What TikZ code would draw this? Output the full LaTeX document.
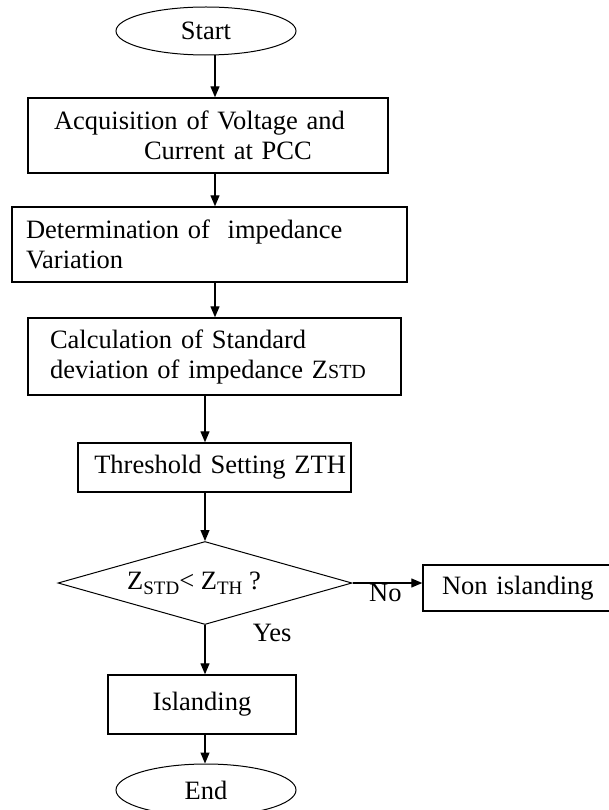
\documentclass[tikz,border=0pt]{standalone}
\usepackage{fontspec}
\setmainfont{Liberation Serif}
\usetikzlibrary{positioning, shapes.geometric, arrows.meta}

\begin{document}
\begin{tikzpicture}[x=1pt,y=-1pt,
    font=\fontsize{26.5}{30}\selectfont,
    proc/.style={draw, line width=1.4pt, rectangle, inner ysep=0pt},
    term/.style={draw, line width=1pt, ellipse, minimum width=180pt, inner sep=0pt},
    decision/.style={draw, line width=1pt, diamond, shape aspect=3.5, minimum width=294pt, minimum height=83pt, inner sep=0pt},
    flow/.style={-{Triangle[length=11pt,width=9pt]}, line width=1.2pt}]
        \path[use as bounding box, clip] (0,0) rectangle (609,810);

        \node[term, minimum height=48pt] (start) at (206,31) {Start};
        \node[proc, align=left, text width=308pt, inner xsep=26pt, minimum height=75pt] (acq) at (208,135.5)
            {Acquisition of Voltage and\\\hspace*{90pt}Current at PCC};
        \node[proc, align=left, text width=367pt, inner xsep=14pt, minimum height=75pt] (det) at (209.5,244.5)
            {Determination of~ impedance\\Variation};
        \node[proc, align=left, text width=329pt, inner xsep=22pt, minimum height=77pt] (calc) at (214.5,356.5)
            {Calculation of Standard\\deviation of impedance Z{\fontsize{20}{20}\selectfont STD}};
        \node[proc, align=right, text width=263pt, inner xsep=5pt, minimum height=49pt] (thr) at (214.5,467.5)
            {Threshold Setting ZTH};
        \node[decision] (dec) at (205,583)
            {Z\raisebox{-5pt}{\fontsize{19}{20}\selectfont STD}< Z\raisebox{-5pt}{\fontsize{19}{20}\selectfont TH} ?\kern22pt};
        \node[proc, align=left, text width=164pt, inner xsep=19pt, minimum height=46pt] (non) at (524,588)
            {Non islanding};
        \node[proc, minimum width=188pt, minimum height=59pt] (isl) at (202,704.5) {Islanding};
        \node[term, minimum height=52pt] (end) at (206,790) {End};
        \coordinate (col) at (215,0);

        \path[flow] (start.south -| col) edge (acq.north -| col)
                    (acq.south -| col) edge (det.north -| col)
                    (det.south -| col) edge (calc.north -| col)
                    (calc.south -| dec.north) edge (thr.north -| dec.north)
                    (thr.south -| dec.north) edge (dec.north)
                    (dec.east) edge node[below, pos=0.47, inner sep=1pt]{No} (dec.east -| non.west)
                    (dec.south) edge node[pos=0.16, anchor=west, xshift=44pt]{Yes} (isl.north -| dec.south)
                    (isl.south -| dec.south) edge (end.north -| dec.south);
\end{tikzpicture}
\end{document}
